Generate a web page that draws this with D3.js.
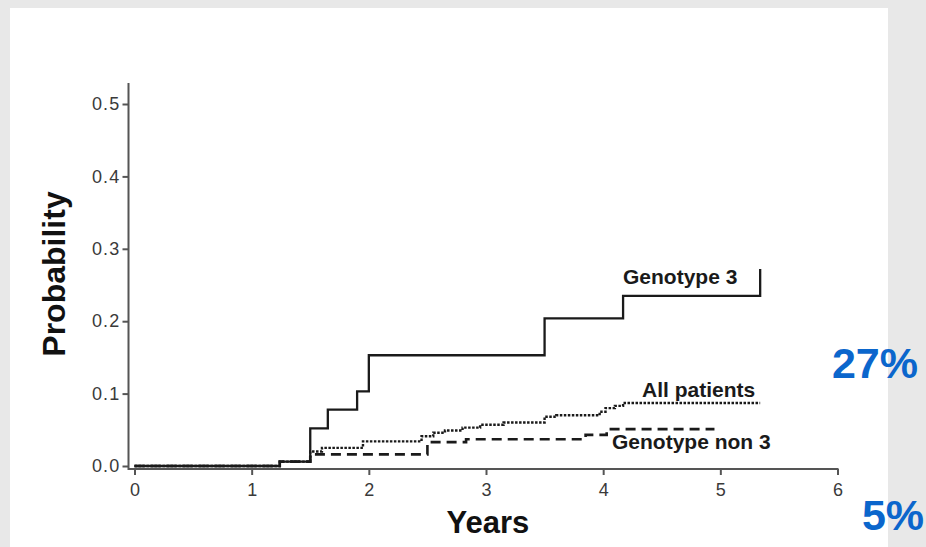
<!DOCTYPE html>
<html>
<head>
<meta charset="utf-8">
<script src="https://cdn.jsdelivr.net/npm/d3@7"></script>
<style>
  body { margin: 0; background: #e8e8e8; }
  svg { display: block; font-family: "Liberation Sans", Arial, sans-serif; }
</style>
</head>
<body>
<svg id="chart"></svg>
<script>
// cumulative probability
const g3Time = [0, 1.24, 1.5, 1.65, 1.9, 2.0, 3.5, 4.17, 5.34];
const g3Prob = [0, 0.006, 0.052, 0.078, 0.103, 0.153, 0.204, 0.235, 0.272];

const allTime = [0, 1.24, 1.5, 1.6, 1.95, 2.45, 2.55, 2.65, 2.8, 2.95, 3.15, 3.5, 3.6, 3.97, 4.02, 4.1, 4.17, 5.34];
const allProb = [0, 0.006, 0.02, 0.025, 0.034, 0.041, 0.046, 0.049, 0.053, 0.057, 0.06, 0.068, 0.07, 0.075, 0.08, 0.083, 0.087, 0.087];

const non3Time = [0, 1.24, 1.5, 2.5, 2.83, 3.85, 4.03, 4.95];
const non3Prob = [0, 0.006, 0.016, 0.033, 0.037, 0.043, 0.051, 0.051];

const xTicks = [0, 1, 2, 3, 4, 5, 6];
const yTicks = [0, 0.1, 0.2, 0.3, 0.4, 0.5];
const seriesNames = ["Genotype 3", "All patients", "Genotype non 3"];
const sideNotes = ["27%", "5%"];

const W = 926, H = 547;
const svg = d3.select("#chart").attr("width", W).attr("height", H);

// white panel
svg.append("rect").attr("x", 10).attr("y", 8).attr("width", 878).attr("height", H - 8).attr("fill", "#fff");

const x = d3.scaleLinear().domain([0, 6]).range([134.5, 837.5]);
const y = d3.scaleLinear().domain([0, 0.5]).range([466, 104]);
const axisX = 128.5, axisY = 469;

// Y axis
const yAxis = svg.append("g")
    .attr("transform", `translate(${axisX},0)`)
    .call(d3.axisLeft(y).tickValues(yTicks).tickFormat(d3.format(".1f")).tickSize(6).tickPadding(2).tickSizeOuter(0));
yAxis.select(".domain").remove();
yAxis.append("line").attr("x1", 0).attr("x2", 0).attr("y1", 83).attr("y2", axisY + 1);

// X axis
const xAxis = svg.append("g")
    .attr("transform", `translate(0,${axisY})`)
    .call(d3.axisBottom(x).tickValues(xTicks).tickFormat(d3.format("d")).tickSize(6).tickPadding(8).tickSizeOuter(0));
xAxis.select(".domain").remove();
xAxis.append("line").attr("x1", axisX).attr("x2", x(6) + 1).attr("y1", 0).attr("y2", 0);

svg.selectAll(".tick line, g > line").attr("stroke", "#555").attr("stroke-width", 2);
svg.selectAll(".tick text").attr("font-size", 18).attr("fill", "#3a3a3a").attr("font-family", "Liberation Sans, Arial, sans-serif");
yAxis.selectAll(".tick text").attr("letter-spacing", 1.2);

// axis titles
svg.append("text")
    .attr("transform", `translate(65,274) rotate(-90)`)
    .attr("text-anchor", "middle")
    .attr("font-size", 32).attr("font-weight", "bold").attr("fill", "#111")
    .text("Probability");

svg.append("text")
    .attr("x", 488).attr("y", 533)
    .attr("text-anchor", "middle")
    .attr("font-size", 31).attr("font-weight", "bold").attr("fill", "#111")
    .text("Years");

// step curves
const step = d3.line()
    .x(d => x(d[0]))
    .y(d => y(d[1]))
    .curve(d3.curveStepAfter);

const curves = [
    { t: non3Time, p: non3Prob, dash: "10,6", w: 2.6 },
    { t: allTime, p: allProb, dash: "2.5,1.5", w: 2.4 },
    { t: g3Time, p: g3Prob, dash: null, w: 2.3 }
];
curves.forEach(c => {
    svg.append("path")
        .datum(d3.zip(c.t, c.p))
        .attr("d", step)
        .attr("fill", "none")
        .attr("stroke", "#1a1a1a")
        .attr("stroke-width", c.w)
        .attr("stroke-dasharray", c.dash);
});

// curve labels
const labelPos = [[623, 284], [642, 397], [612, 449]];
seriesNames.forEach((name, i) => {
    svg.append("text")
        .attr("x", labelPos[i][0]).attr("y", labelPos[i][1])
        .attr("font-size", 21).attr("font-weight", "bold").attr("fill", "#1a1a1a")
        .text(name);
});

// side notes
const notePos = [[875, 378], [893, 530]];
sideNotes.forEach((s, i) => {
    svg.append("text")
        .attr("x", notePos[i][0]).attr("y", notePos[i][1])
        .attr("text-anchor", "middle")
        .attr("font-size", 43).attr("font-weight", "bold").attr("fill", "#0b66cc")
        .text(s);
});
</script>
</body>
</html>
